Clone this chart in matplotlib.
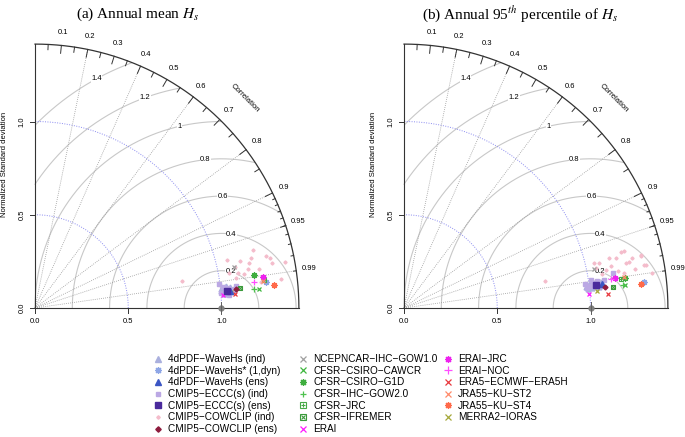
import numpy as np
import matplotlib.pyplot as plt
from matplotlib.legend_handler import HandlerTuple

plt.rcParams['font.family'] = ['Liberation Sans', 'DejaVu Sans']
plt.rcParams['mathtext.fontset'] = 'stix'

W, H = 685, 437
MAXSD = 1.415
SCALE = 186.5   # pixels per unit of normalized sd

corr_labels = [0.1, 0.2, 0.3, 0.4, 0.5, 0.6, 0.7, 0.8, 0.9, 0.95, 0.99]
corr_lines = [0.2, 0.4, 0.6, 0.8, 0.9, 0.95, 0.99]
gamma_levels = [0.2, 0.4, 0.6, 0.8, 1.0, 1.2, 1.4]
sd_ticks = [0.0, 0.5, 1.0]

# multi-point series, (x, y) in Taylor plane: panel a = annual mean, panel b = 95th pct
pdf_ind_a = [(1.00, 0.10), (1.01, 0.085), (1.02, 0.11), (1.03, 0.095), (1.04, 0.10), (1.05, 0.09),
             (1.015, 0.075), (1.035, 0.08), (1.06, 0.095), (0.995, 0.09), (1.025, 0.12), (1.045, 0.115)]
pdf_ind_b = [(0.975, 0.115), (0.99, 0.125), (1.00, 0.14), (1.02, 0.12), (1.04, 0.135), (1.055, 0.14),
             (1.065, 0.125), (0.985, 0.10), (1.01, 0.105), (1.045, 0.115)]
eccc_ind_a = [(0.985, 0.13), (1.00, 0.08), (1.02, 0.10), (1.035, 0.105), (1.05, 0.085), (1.065, 0.10),
              (1.08, 0.12), (1.01, 0.115), (1.04, 0.07)]
eccc_ind_b = [(0.97, 0.13), (0.995, 0.12), (1.015, 0.135), (1.035, 0.145), (1.05, 0.12), (1.12, 0.19),
              (1.07, 0.15), (0.98, 0.105), (1.00, 0.15)]
cow_ind_a = [(0.79, 0.145), (1.03, 0.26), (1.04, 0.19), (1.07, 0.22), (1.09, 0.19), (1.10, 0.25),
             (1.14, 0.21), (1.15, 0.24), (1.17, 0.31), (1.16, 0.27), (1.20, 0.21), (1.21, 0.14),
             (1.24, 0.28), (1.26, 0.27), (1.27, 0.24), (1.34, 0.245), (1.32, 0.155), (1.00, 0.12),
             (1.08, 0.16), (1.12, 0.18)]
cow_ind_b = [(0.754, 0.146), (1.021, 0.242), (1.03, 0.212), (1.045, 0.239), (1.084, 0.203), (1.11, 0.224),
             (1.137, 0.266), (1.164, 0.30), (1.18, 0.305), (1.19, 0.239), (1.18, 0.185), (1.208, 0.248),
             (1.27, 0.283), (1.271, 0.278), (1.289, 0.23), (1.30, 0.23), (1.06, 0.18), (1.15, 0.20),
             (1.22, 0.27), (1.33, 0.19), (1.10, 0.27), (1.24, 0.21)]

# single-point series
single_names = ['4dPDF\u2212WaveHs* (1,dyn)', '4dPDF\u2212WaveHs (ens)', 'CMIP5\u2212ECCC(s) (ens)',
                'CMIP5\u2212COWCLIP (ens)', 'NCEPNCAR\u2212IHC\u2212GOW1.0', 'CFSR\u2212CSIRO\u2212CAWCR',
                'CFSR\u2212CSIRO\u2212G1D', 'CFSR\u2212IHC\u2212GOW2.0', 'CFSR\u2212JRC', 'CFSR\u2212IFREMER',
                'ERAI', 'ERAI\u2212JRC', 'ERAI\u2212NOC', 'ERA5\u2212ECMWF\u2212ERA5H', 'JRA55\u2212KU\u2212ST2',
                'JRA55\u2212KU\u2212ST4', 'MERRA2\u2212IORAS']
single_a_x = [1.24, 1.043, 1.028, 1.076, 1.065, 1.203, 1.176, 1.173, 1.23, 1.10, 1.009, 1.225, 1.175, 1.073, 1.22, 1.28, 1.05]
single_a_y = [0.137, 0.093, 0.089, 0.10, 0.22, 0.10, 0.175, 0.10, 0.152, 0.109, 0.071, 0.167, 0.137, 0.073, 0.146, 0.121, 0.085]
single_b_x = [1.289, 1.062, 1.030, 1.080, 1.02, 1.186, 1.186, 1.173, 1.164, 1.118, 0.991, 1.134, 1.111, 1.096, 1.182, 1.273, 1.036]
single_b_y = [0.141, 0.130, 0.123, 0.11, 0.21, 0.123, 0.162, 0.123, 0.153, 0.11, 0.075, 0.159, 0.155, 0.073, 0.167, 0.127, 0.089]

AST = (8, 2, 0)
single_styles = [
    (AST, '#8ea6e6', 4.5), ('^', '#3b56c4', 4.5), ('s', '#4a2a9c', 4), ('D', '#8e1c3e', 2.5),
    ('x', '#a0a0a0', 3.5), ('x', '#3fb73f', 3.5), (AST, '#3fae3f', 4.5), ('+', '#4ec24e', 4.5),
    ('sq+', '#47a947', 3.5), ('sqx', '#3a9a3a', 3.5), ('x', '#ff1aff', 3.5), (AST, '#ee22ee', 4.5),
    ('+', '#ff4dff', 5), ('x', '#e8383d', 3.5), ('x', '#ff8a6a', 3.5), (AST, '#ff6a4a', 4.5),
    ('x', '#a5a83a', 3.5),
]
multi_styles = {'pdf': ('^', '#aab0de', 3.5), 'eccc': ('s', '#bba8e4', 3), 'cow': ('D', '#f4bccb', 1.6)}


def mark(ax, xs, ys, m, c, ms, z=5):
    # returns a legend handle
    if m in ('sq+', 'sqx'):
        h1, = ax.plot(xs, ys, 's', ms=ms, mfc='none', mec=c, mew=0.8, ls='none', zorder=z)
        h2, = ax.plot(xs, ys, '+' if m == 'sq+' else 'x', ms=ms * 0.8, mec=c, mew=0.8, ls='none', zorder=z)
        return (h1, h2)
    if m in ('x', '+', AST):
        h, = ax.plot(xs, ys, marker=m, ms=ms, mec=c, mew=0.9, ls='none', zorder=z)
    else:
        h, = ax.plot(xs, ys, marker=m, ms=ms, color=c, mec=c, ls='none', zorder=z)
    return h


def taylor_frame(ax):
    th = np.linspace(0, np.pi / 2, 400)
    # centred RMS difference arcs
    lab_ang = [44, 48, 52, 56, 60, 64, 69]
    for g, k in zip(gamma_levels, lab_ang):
        t = np.linspace(0, np.pi, 800)
        x = 1 + g * np.cos(t)
        y = g * np.sin(t)
        ok = (x >= 0) & (x ** 2 + y ** 2 <= MAXSD ** 2)
        ax.plot(np.where(ok, x, np.nan), np.where(ok, y, np.nan), color='#c8c8c8', lw=0.8, zorder=1)
        a = k * 0.03
        ax.text(1 + g * np.cos(a), g * np.sin(a), f'{g:g}', fontsize=5.5, ha='center', va='center',
                bbox=dict(fc='white', ec='none', pad=0.2), zorder=2)
    # sd arcs
    for r in [0.5, 1.0]:
        ax.plot(r * np.cos(th), r * np.sin(th), ls=(0, (1, 1.5)), color='#8c8cf0', lw=0.7, zorder=1)
    # correlation rays
    for c in corr_lines:
        a = np.arccos(c)
        ax.plot([0, MAXSD * np.cos(a)], [0, MAXSD * np.sin(a)], ls=(0, (1, 1.5)), color='#9a9a9a', lw=0.6, zorder=1)
    # outer arc and ticks
    ax.plot(MAXSD * np.cos(th), MAXSD * np.sin(th), color='#333333', lw=0.9, zorder=3)
    for vals, f in [(np.arange(0.1, 0.91, 0.1), 0.97), (np.arange(0.05, 0.96, 0.1), 0.98),
                    (np.arange(0.91, 0.995, 0.01), 0.99)]:
        for v in vals:
            a = np.arccos(v)
            ax.plot([MAXSD * np.cos(a), f * MAXSD * np.cos(a)], [MAXSD * np.sin(a), f * MAXSD * np.sin(a)],
                    color='#333333', lw=0.7, zorder=3)
    for v in corr_labels:
        a = np.arccos(v)
        ax.text(1.05 * MAXSD * np.cos(a), 1.05 * MAXSD * np.sin(a), f'{v:g}', fontsize=5.5,
                ha='center', va='center')
    ax.text(1.126, 1.126, 'Correlation', rotation=-45, fontsize=5.5, ha='center', va='center')
    # axes
    ax.plot([0, 0], [0, MAXSD], color='#333333', lw=0.8, zorder=3)
    ax.plot([0, MAXSD], [0, 0], color='#333333', lw=0.8, zorder=3)
    for v in sd_ticks:
        ax.plot([0, -0.025], [v, v], color='#333333', lw=0.7)
        ax.plot([v, v], [0, -0.025], color='#333333', lw=0.7)
        ax.text(-0.07, v, f'{v:.1f}', rotation=90, fontsize=5.5, ha='center', va='center')
        ax.text(v, -0.075, f'{v:.1f}', fontsize=5.5, ha='center', va='center')
    ax.text(-0.165, 0.77, 'Normalized Standard deviation', rotation=90, fontsize=5.5, ha='center', va='center')
    # reference point
    ax.plot([1], [0], 'o', ms=3.5, color='#808080', zorder=6)
    ax.plot([1, 1], [-0.03, 0.03], color='#606060', lw=0.7, zorder=6)


fig = plt.figure(figsize=(W / 100, H / 100), dpi=100)

panels = [(35, pdf_ind_a, eccc_ind_a, cow_ind_a, single_a_x, single_a_y),
          (404, pdf_ind_b, eccc_ind_b, cow_ind_b, single_b_x, single_b_y)]
handles = {}
for ox, pdf, eccc, cow, sx, sy in panels:
    x0, x1, y0, y1 = -0.17, 1.5, -0.2, 1.55
    ax = fig.add_axes([(ox + x0 * SCALE) / W, (H - 308 + y0 * SCALE) / H,
                       (x1 - x0) * SCALE / W, (y1 - y0) * SCALE / H])
    ax.set_xlim(x0, x1)
    ax.set_ylim(y0, y1)
    ax.axis('off')
    taylor_frame(ax)
    handles['cow'] = mark(ax, *zip(*cow), *multi_styles['cow'], z=4)
    handles['pdf'] = mark(ax, *zip(*pdf), *multi_styles['pdf'], z=4)
    handles['eccc'] = mark(ax, *zip(*eccc), *multi_styles['eccc'], z=4)
    for i, (m, c, ms) in enumerate(single_styles):
        handles[i] = mark(ax, [sx[i]], [sy[i]], m, c, ms, z=5 + (i in (1, 2, 3)))

fig.text(138 / W, 1 - 14 / H, '(a) Annual mean $H_s$', fontsize=11, family='Liberation Serif',
         ha='center', va='center')
fig.text(520 / W, 1 - 14 / H, '(b) Annual 95$^{th}$ percentile of $H_s$', fontsize=11,
         family='Liberation Serif', ha='center', va='center')

leg_handles = [handles['pdf'], handles[0], handles[1], handles['eccc'], handles[2], handles['cow'], handles[3]] + \
              [handles[i] for i in range(4, 17)]
leg_labels = ['4dPDF\u2212WaveHs (ind)', single_names[0], single_names[1], 'CMIP5\u2212ECCC(s) (ind)',
              single_names[2], 'CMIP5\u2212COWCLIP (ind)', single_names[3]] + single_names[4:]

for col, left in enumerate([153, 298, 443]):
    hs = leg_handles[col * 7:(col + 1) * 7]
    ls = leg_labels[col * 7:(col + 1) * 7]
    fig.legend(hs, ls, loc='upper left', bbox_to_anchor=(left / W, 1 - 354 / H), frameon=False,
               fontsize=7.2, borderpad=0, borderaxespad=0, handlelength=1.0, handletextpad=0.5,
               labelspacing=0.17, markerscale=1.1,
               handler_map={tuple: HandlerTuple(ndivide=1, pad=0)})

fig.savefig('out.png', dpi=100)
